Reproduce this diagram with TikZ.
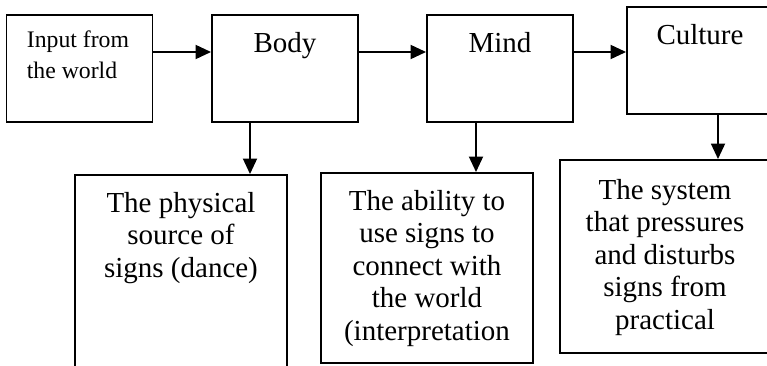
\documentclass[tikz,border=0pt]{standalone}
\usepackage{fontspec}
\setmainfont{Liberation Serif}
\usepackage{tikz}
\usetikzlibrary{
arrows.meta,
positioning
}

\begin{document}
\begin{tikzpicture}[
  >={Triangle[length=3.1mm, width=2.8mm]},
  box/.style={draw, line width=1.1pt, inner sep=0pt,
              minimum width=2.92cm, minimum height=2.14cm},
  descbox/.style={draw, line width=1.1pt, inner sep=0pt,
                  minimum width=4.24cm},
  headtxt/.style={font=\fontsize{16.5}{18.5}\selectfont,
                  inner sep=0pt, anchor=base},
  desctxt/.style={font=\fontsize{16.5}{18.5}\selectfont,
                  align=center, inner sep=0pt, anchor=north},
  arrow/.style={->, line width=1.1pt}
]

%% Page frame
\useasboundingbox (0,0) rectangle (15.34,7.3);
\clip (0,0) rectangle (15.34,7.3);

%% Top row
\node[box] (input) at (1.59, 5.93) {};
\node[box] (body) at (5.70, 5.93) {};
\node[box] (mind) at (10.00, 5.93) {};
\node[box] (culture) at (14.00, 6.09) {};

\node[font=\fontsize{13.5}{17.6}\selectfont, align=left,
      inner sep=0pt, anchor=north west] (inputtxt)
  at ([xshift=4.2mm, yshift=-2.3mm]input.north west)
  {\strut Input from\\the world};
\node[headtxt] (bodytxt) at ([yshift=-7.6mm]body.north) {Body};
\node[headtxt] (mindtxt) at ([yshift=-7.6mm]mind.north) {Mind};
\node[headtxt] (culturetxt) at ([yshift=-7.6mm]culture.north) {Culture};

%% Bottom row
\node[descbox, minimum height=4.1cm] (phys) at (3.62, 1.75) {};
\node[descbox, minimum height=3.8cm] (ability) at (8.54, 1.94) {};
\node[descbox, minimum width=4.2cm,
      minimum height=3.86cm] (system) at (13.30, 2.17) {};

\node[desctxt] (photxt) at ([yshift=-3.0mm]phys.north)
  {\strut The physical\\
   source of\\
   signs (dance)};
\node[desctxt] (abilitytxt) at ([yshift=-3.0mm]ability.north)
  {\strut The ability to\\
   use signs to\\
   connect with\\
   the world\\
   (interpretation};
\node[desctxt] (systemtxt) at ([yshift=-3.4mm]system.north)
  {\strut The system\\
   that pressures\\
   and disturbs\\
   signs from\\
   practical};

%% Flow
\draw[arrow] ([yshift=3.3mm]input.east) -- ([yshift=3.3mm]input.east -| body.west);
\draw[arrow] ([yshift=3.3mm]body.east) -- ([yshift=3.3mm]body.east -| mind.west);
\draw[arrow] ([yshift=3.3mm]mind.east) -- ([yshift=3.3mm]mind.east -| culture.west);

\draw[arrow] ([xshift=-7mm]body.south) -- ([xshift=-7mm]body.south |- phys.north);
\draw[arrow] ([xshift=-4.8mm]mind.south) -- ([xshift=-4.8mm]mind.south |- ability.north);
\draw[arrow] ([xshift=3.6mm]culture.south) -- ([xshift=3.6mm]culture.south |- system.north);

\end{tikzpicture}
\end{document}
